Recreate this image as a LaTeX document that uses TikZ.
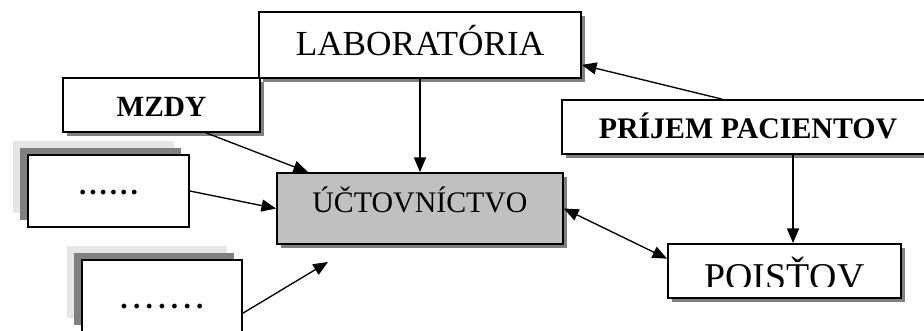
\documentclass[tikz,border=0pt]{standalone}
\usepackage{fontspec}
\setmainfont{Liberation Serif}
\usetikzlibrary{arrows.meta,shadows}
\definecolor{shdark}{HTML}{808080}
\definecolor{shlight}{HTML}{E6E6E6}
\definecolor{accfill}{HTML}{C0C0C0}
\tikzset{
  box/.style={draw, line width=1.3pt, fill=white, inner sep=0pt,
    general shadow={fill=shdark, shadow xshift=3pt, shadow yshift=-3pt}},
  dotbox/.style={draw, line width=1.3pt, fill=white, inner sep=0pt,
    general shadow={fill=shlight, shadow xshift=-11.25pt, shadow yshift=10.5pt},
    general shadow={fill=shdark, shadow xshift=-6pt, shadow yshift=5.25pt}},
  arr/.style={line width=1pt, -{Triangle[length=11pt,width=9pt]}},
  dblarr/.style={line width=1pt, {Triangle[length=11pt,width=9pt]}-{Triangle[length=11pt,width=9pt]}}
}
\begin{document}
\begin{tikzpicture}[x=0.75pt,y=-0.75pt]
\useasboundingbox (0,0) rectangle (924,330);
	%boxes
	\node[box, minimum width=241.5pt, text height=32.25pt, text depth=17.25pt, font=\fontsize{26.4}{30}\selectfont] (lab) at (420,45) {LABORATÓRIA};
	\node[box, minimum width=147.75pt, text height=28.5pt, text depth=12pt, font=\fontsize{22}{26}\selectfont\bfseries] (mzdy) at (161.5,105) {MZDY};
	\node[dotbox, minimum width=120.75pt, text height=29.25pt, text depth=24.75pt, font=\fontsize{22}{26}\selectfont\bfseries\addfontfeature{LetterSpace=10}] (dots1) at (108.5,191) {......};
	\node[dotbox, minimum width=120pt, text height=36pt, text depth=18pt, font=\fontsize{22}{26}\selectfont\bfseries\addfontfeature{LetterSpace=18}] (dots2) at (162,296) {.......};
	\node[box, fill=accfill, minimum width=214.5pt, text height=29.25pt, text depth=24pt, font=\fontsize{22.4}{26}\selectfont] (acc) at (420,208.5) {ÚČTOVNÍCTVO};
	\node[box, minimum width=279pt, text height=28.5pt, text depth=12pt, font=\fontsize{22.4}{26}\selectfont\bfseries] (prijem) at (748,127) {PRÍJEM PACIENTOV};
	\node[box, minimum width=174.75pt, text height=33.75pt, text depth=6.75pt, font=\fontsize{28.4}{32}\selectfont] (pois) at (784.5,271) {POISŤOV};
	\fill[white] (670,287) rectangle (899,295.5);
	\coordinate (tip) at (328,262);

	%arrows
	\draw[arr] (lab.south) -- (acc.north);
	\draw[arr] (mzdy.-32) -- (acc.162);
	\draw[arr] (dots1.east) -- (acc.west);
	\draw[arr] (dots2.-12) -- (tip);
	\draw[arr] (prijem.133) -- (lab.-7);
	\draw[arr] ([xshift=6.4pt]pois.north |- prijem.south) -- ([xshift=6.4pt]pois.north);
	\draw[dblarr] (acc.east) -- (pois.174);
\end{tikzpicture}
\end{document}
